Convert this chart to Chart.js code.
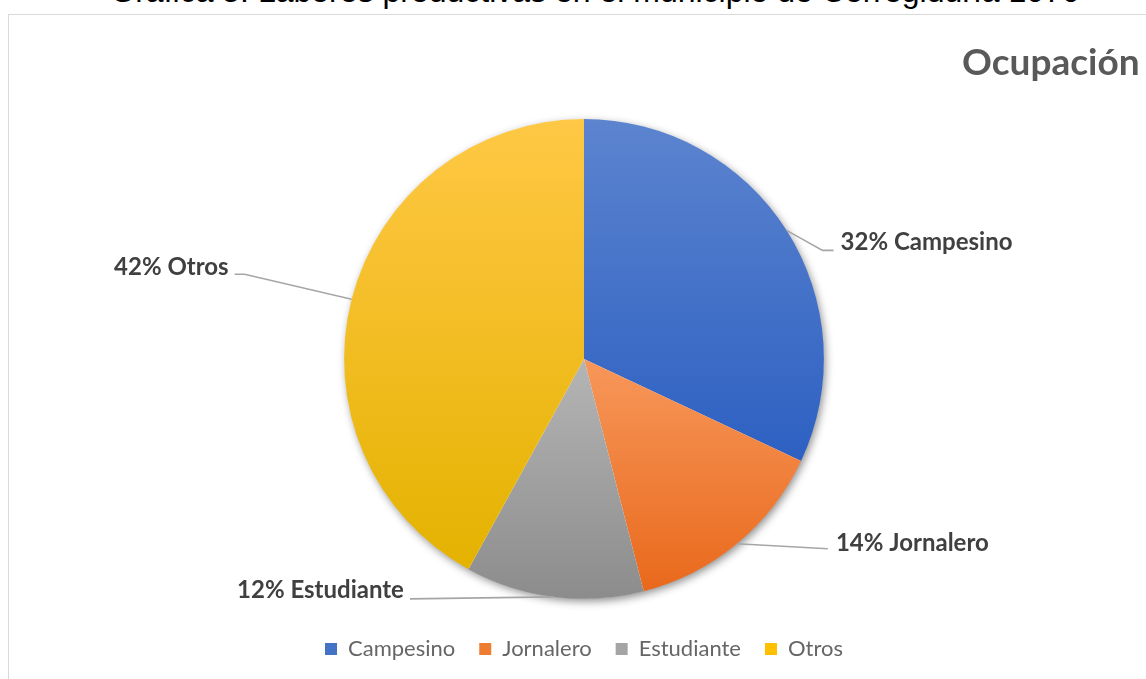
<!DOCTYPE html>
<html>
<head>
<meta charset="utf-8">
<script src="https://cdn.jsdelivr.net/npm/chart.js@4.4.0/dist/chart.umd.min.js"></script>
<style>
  html, body { margin: 0; padding: 0; background: #fff; overflow: hidden; }
  body { width: 1146px; height: 679px; position: relative; }
  #heading {
    position: absolute; left: 0; width: 1190px; top: -27px;
    text-align: center; font-family: "Liberation Sans", Arial, sans-serif;
    font-size: 32px; color: #000; white-space: nowrap;
  }
  #box {
    position: absolute; left: 8px; top: 14px; width: 1200px; height: 700px;
    border: 1px solid #d9d9d9; box-sizing: border-box;
  }
  #wrap { position: absolute; left: 9px; top: 15px; width: 1150px; height: 661px; }
</style>
</head>
<body>
<div id="heading">Gráfica 5. Labores productivas en el municipio de Corregiduría 1070</div>
<div id="box"></div>
<div id="wrap"><canvas id="pieChart"></canvas></div>
<script>
const categories = ['Campesino', 'Jornalero', 'Estudiante', 'Otros']
const percentages = [32, 14, 12, 42]
const chartTitle = 'Ocupación'

// colores de Office y su degradado (claro arriba, oscuro abajo)
const baseColors = ['#4472c4', '#ed7d31', '#a5a5a5', '#ffc000']
const topColors = ['#5c84cf', '#f7975a', '#b5b5b5', '#ffc845']
const bottomColors = ['#2d60c2', '#e9691c', '#8c8c8c', '#e4b200']

// donde va cada etiqueta respecto al borde del sector
const leaders = [
    { elbow: [36, 20], end: [47, 20], text: [54, 12], align: 'left' },
    { elbow: [91, 5], end: [91, 5], text: [99, 0], align: 'left' },
    { elbow: [-144, 2], end: [-144, 2], text: [-150, -7], align: 'right' },
    { elbow: [-107, -25], end: [-117, -25], text: [-123, -32], align: 'right' }
]

const sliceGradient = (context) => {
    const chart = context.chart
    const i = context.dataIndex
    const area = chart.chartArea
    if (!area) return baseColors[i]
    const cy = (area.top + area.bottom) / 2
    const r = Math.min(area.right - area.left, area.bottom - area.top) / 2
    const total = percentages.reduce((a, b) => a + b, 0)
    let before = 0
    for (let k = 0; k < i; k++) before += percentages[k]
    const a0 = -Math.PI / 2 + 2 * Math.PI * before / total
    const a1 = a0 + 2 * Math.PI * percentages[i] / total
    const ys = [cy, cy + Math.sin(a0) * r, cy + Math.sin(a1) * r]
    if (a0 <= Math.PI / 2 && a1 >= Math.PI / 2) ys.push(cy + r)
    if (a0 <= -Math.PI / 2 + 0.001 || a1 >= 3 * Math.PI / 2 - 0.001) ys.push(cy - r)
    const g = chart.ctx.createLinearGradient(0, Math.min(...ys), 0, Math.max(...ys))
    g.addColorStop(0, topColors[i])
    g.addColorStop(1, bottomColors[i])
    return g
}

const shadowPlugin = {
    id: 'shadowPlugin',
    beforeDatasetsDraw(chart) {
        const arc = chart.getDatasetMeta(0).data[0]
        if (!arc) return
        const ctx = chart.ctx
        ctx.save()
        ctx.shadowColor = 'rgba(0,0,0,0.45)'
        ctx.shadowBlur = 9
        ctx.shadowOffsetX = 2
        ctx.shadowOffsetY = 3
        ctx.fillStyle = '#fff'
        ctx.beginPath()
        ctx.arc(arc.x, arc.y, arc.outerRadius - 0.5, 0, Math.PI * 2)
        ctx.fill()
        ctx.restore()
    }
}

const labelPlugin = {
    id: 'labelPlugin',
    afterDatasetsDraw(chart) {
        const ctx = chart.ctx
        const meta = chart.getDatasetMeta(0)
        ctx.save()
        meta.data.forEach((arc, i) => {
            const mid = (arc.startAngle + arc.endAngle) / 2
            const ex = arc.x + Math.cos(mid) * arc.outerRadius
            const ey = arc.y + Math.sin(mid) * arc.outerRadius
            const L = leaders[i]
            ctx.strokeStyle = '#a6a6a6'
            ctx.lineWidth = 1.6
            ctx.beginPath()
            ctx.moveTo(ex, ey)
            ctx.lineTo(ex + L.elbow[0], ey + L.elbow[1])
            ctx.lineTo(ex + L.end[0], ey + L.end[1])
            ctx.stroke()
            ctx.fillStyle = '#404040'
            ctx.font = 'bold 24px Lato'
            ctx.textAlign = L.align
            ctx.textBaseline = 'middle'
            ctx.fillText(percentages[i] + '% ' + categories[i], ex + L.text[0], ey + L.text[1])
        })
        // titulo del grafico
        ctx.fillStyle = '#595959'
        ctx.font = 'bold 37px Lato'
        ctx.textAlign = 'left'
        ctx.textBaseline = 'middle'
        ctx.fillText(chartTitle, 962 - 9, 63 - 15)
        ctx.restore()
    }
}

const data = {
    labels: categories,
    datasets: [{
        data: percentages,
        backgroundColor: sliceGradient,
        borderWidth: 0
    }]
}

const config = {
    type: 'pie',
    data: data,
    plugins: [shadowPlugin, labelPlugin],
    options: {
        responsive: true,
        maintainAspectRatio: false,
        animation: false,
        layout: { padding: { top: 104, bottom: 6 } },
        plugins: {
            tooltip: { enabled: false },
            legend: {
                position: 'bottom',
                title: { display: true, text: ' ', font: { size: 1 }, padding: { top: 14, bottom: 0 } },
                labels: {
                    boxWidth: 12,
                    boxHeight: 12,
                    padding: 24,
                    color: '#595959',
                    font: { family: 'Lato', size: 22 },
                    generateLabels: (chart) => categories.map((c, i) => ({
                        text: c,
                        fillStyle: baseColors[i],
                        strokeStyle: baseColors[i],
                        lineWidth: 0,
                        index: i
                    }))
                }
            }
        }
    }
}

const pieChart = new Chart(document.getElementById('pieChart'), config)
</script>
</body>
</html>
